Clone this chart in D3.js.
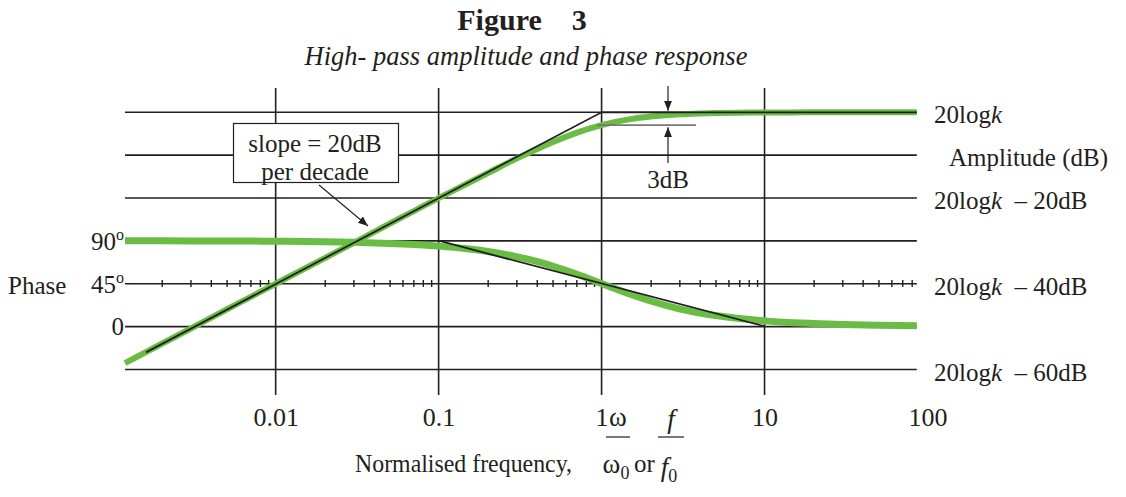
<!DOCTYPE html>
<html>
<head>
<meta charset="utf-8">
<script src="https://cdn.jsdelivr.net/npm/d3@7"></script>
<style>
  html, body { margin: 0; padding: 0; background: #fff; }
  svg { display: block; font-family: "Liberation Serif", "Times New Roman", serif; }
</style>
</head>
<body>
<svg id="chart" width="1126" height="497"></svg>
<script>
// ---------- data ----------
const freq = [0.00119, 0.002, 0.003, 0.005, 0.007, 0.01, 0.02, 0.03, 0.05, 0.07, 0.1, 0.15, 0.2, 0.3, 0.4, 0.5, 0.7, 1, 1.5, 2, 3, 4, 5, 7, 10, 15, 20, 30, 50, 86];
const amplitudeDb = [-58.5, -54.0, -50.5, -46.0, -43.1, -40.0, -34.0, -30.5, -26.0, -23.1, -20.0, -16.6, -14.2, -10.8, -8.6, -7.0, -4.8, -3.0, -1.6, -1.0, -0.46, -0.26, -0.17, -0.09, -0.04, -0.02, -0.01, 0, 0, 0];
const phaseDeg = [89.9, 89.9, 89.8, 89.7, 89.6, 89.4, 88.9, 88.3, 87.1, 86.0, 84.3, 81.5, 78.7, 73.3, 68.2, 63.4, 55.0, 45, 33.7, 26.6, 18.4, 14.0, 11.3, 8.1, 5.7, 3.8, 2.9, 1.9, 1.1, 0.7];
const ampAsymFreq = [0.0016, 1, 86];
const ampAsymDb = [-56, 0, 0];
const phaseAsymFreq = [0.1, 10];
const phaseAsymDeg = [90, 0];
const decades = [0.01, 0.1, 1, 10];
const tickValues = [0.01, 0.1, 1, 10, 100];
const tickLabels = ["0.01", "0.1", "1", "10", "100"];
const gridDb = [0, -10, -20, -30, -40, -50, -60];
const minorMultipliers = [2, 3, 4, 5, 6, 7, 8, 9];
const minorDecades = [0.001, 0.01, 0.1, 1, 10];
const phaseTicks = [90, 45, 0];
const rightLabels = [
  {db: 0, main: "20log", k: "k", rest: ""},
  {db: -20, main: "20log", k: "k", rest: "  \u2013 20dB"},
  {db: -40, main: "20log", k: "k", rest: "  \u2013 40dB"},
  {db: -60, main: "20log", k: "k", rest: "  \u2013 60dB"}
];

// ---------- scales ----------
const svg = d3.select("#chart");
const xMin = 0.00119, xMax = 86;
const x = d3.scaleLog().domain([0.001, 100]).range([112.7, 927.5]);
const yDb = d3.scaleLinear().domain([-60, 0]).range([369.5, 112.3]);
const yPh = d3.scaleLinear().domain([0, 90]).range([326.3, 240.7]);
const ink = "#231f20";
const green = "#69bd45";

// ---------- grid ----------
const grid = svg.append("g");
grid.selectAll("line.h").data(gridDb).enter().append("line")
  .attr("x1", x(xMin)).attr("x2", x(xMax))
  .attr("y1", d => yDb(d)).attr("y2", d => yDb(d))
  .attr("stroke", ink).attr("stroke-width", 1.6);
grid.selectAll("line.v").data(decades).enter().append("line")
  .attr("x1", d => x(d)).attr("x2", d => x(d))
  .attr("y1", 88).attr("y2", 395)
  .attr("stroke", ink).attr("stroke-width", 1.6);

// minor ticks on 45 deg line
const minor = [];
minorDecades.forEach(dec => minorMultipliers.forEach(m => {
  const v = dec * m; if (v > xMin && v < xMax) minor.push(v);
}));
svg.append("g")
  .attr("transform", `translate(0,${yPh(45) - 3.5})`)
  .call(d3.axisBottom(x).tickValues(minor).tickSize(7).tickFormat(""))
  .call(g => g.select(".domain").remove())
  .call(g => g.selectAll("line").attr("stroke", ink).attr("stroke-width", 1.4));

// x tick labels
svg.append("g")
  .attr("transform", "translate(0,395)")
  .call(d3.axisBottom(x).tickValues(tickValues).tickSize(0).tickPadding(13)
        .tickFormat((d, i) => tickLabels[i]))
  .call(g => g.select(".domain").remove())
  .call(g => g.selectAll("text").attr("font-family", "Liberation Serif")
        .attr("font-size", 26).attr("fill", ink));

// ---------- curves ----------
const line = d3.line().curve(d3.curveMonotoneX);
svg.append("path")
  .attr("d", line(freq.map((f, i) => [x(f), yPh(phaseDeg[i])])))
  .attr("fill", "none").attr("stroke", green).attr("stroke-width", 7);
svg.append("path")
  .attr("d", line(freq.map((f, i) => [x(f), yDb(amplitudeDb[i])])))
  .attr("fill", "none").attr("stroke", green).attr("stroke-width", 6);

// asymptotes
const straight = d3.line();
svg.append("path")
  .attr("d", straight(ampAsymFreq.map((f, i) => [x(f), yDb(ampAsymDb[i])])))
  .attr("fill", "none").attr("stroke", ink).attr("stroke-width", 1.8);
svg.append("path")
  .attr("d", straight(phaseAsymFreq.map((f, i) => [x(f), yPh(phaseAsymDeg[i])])))
  .attr("fill", "none").attr("stroke", ink).attr("stroke-width", 1.8);

// ---------- markers ----------
const defs = svg.append("defs");
defs.append("marker").attr("id", "arr").attr("viewBox", "0 0 10 10")
  .attr("refX", 10).attr("refY", 5).attr("markerWidth", 10).attr("markerHeight", 10)
  .attr("markerUnits", "userSpaceOnUse").attr("orient", "auto")
  .append("path").attr("d", "M0,1 L10,5 L0,9 Z").attr("fill", ink);

// 3dB annotation
const x3 = 668;
svg.append("line").attr("x1", 597).attr("x2", 696)
  .attr("y1", yDb(-3)).attr("y2", yDb(-3))
  .attr("stroke", "#777").attr("stroke-width", 1.6);
svg.append("line").attr("x1", x3).attr("x2", x3).attr("y1", 86).attr("y2", yDb(0) - 1.5)
  .attr("stroke", ink).attr("stroke-width", 1.2).attr("marker-end", "url(#arr)");
svg.append("line").attr("x1", x3).attr("x2", x3).attr("y1", 163).attr("y2", yDb(-3) + 2)
  .attr("stroke", ink).attr("stroke-width", 1.2).attr("marker-end", "url(#arr)");
svg.append("text").attr("x", x3).attr("y", 188).attr("text-anchor", "middle")
  .attr("font-size", 25).attr("fill", ink).text("3dB");

// slope box
svg.append("rect").attr("x", 233.5).attr("y", 123.5).attr("width", 165).attr("height", 59)
  .attr("fill", "#fff").attr("stroke", ink).attr("stroke-width", 1.2);
svg.append("text").attr("x", 315).attr("y", 152).attr("text-anchor", "middle")
  .attr("font-size", 25).attr("fill", ink).text("slope = 20dB");
svg.append("text").attr("x", 315).attr("y", 180).attr("text-anchor", "middle")
  .attr("font-size", 25).attr("fill", ink).text("per decade");
svg.append("line").attr("x1", 319).attr("y1", 185).attr("x2", 368).attr("y2", 226)
  .attr("stroke", ink).attr("stroke-width", 1.1).attr("marker-end", "url(#arr)");

// ---------- titles ----------
svg.append("text").attr("x", 522).attr("y", 30).attr("text-anchor", "middle")
  .attr("font-size", 30).attr("font-weight", "bold").attr("fill", ink)
  .attr("xml:space", "preserve").text("Figure    3");
svg.append("text").attr("x", 526).attr("y", 65).attr("text-anchor", "middle")
  .attr("font-size", 26.5).attr("font-style", "italic").attr("fill", ink)
  .text("High- pass amplitude and phase response");

// right labels
const rl = svg.append("g").attr("font-size", 25).attr("fill", ink);
rightLabels.forEach(d => {
  const t = rl.append("text").attr("x", 934).attr("y", yDb(d.db) + 11)
    .attr("xml:space", "preserve");
  t.append("tspan").text(d.main);
  t.append("tspan").attr("font-style", "italic").text(d.k);
  if (d.rest) t.append("tspan").text(d.rest);
});
rl.append("text").attr("x", 949).attr("y", yDb(-10) + 11).text("Amplitude (dB)");

// left phase labels
const ll = svg.append("g").attr("font-size", 25).attr("fill", ink);
phaseTicks.forEach(p => {
  const t = ll.append("text").attr("x", 124).attr("y", yPh(p) + 9).attr("text-anchor", "end");
  t.append("tspan").text(p === 0 ? "0" : String(p));
  if (p !== 0) t.append("tspan").attr("font-size", 16).attr("dy", -10).text("o");
});
ll.append("text").attr("x", 8).attr("y", yPh(45) + 10).text("Phase");

// x-axis title
const xt = svg.append("g").attr("font-size", 25).attr("fill", ink);
xt.append("text").attr("x", 355).attr("y", 472).attr("textLength", 217)
  .attr("lengthAdjust", "spacingAndGlyphs").text("Normalised frequency,");
xt.append("text").attr("x", 618).attr("y", 426).attr("text-anchor", "middle")
  .attr("font-size", 27).text("\u03c9");
xt.append("line").attr("x1", 606).attr("x2", 630).attr("y1", 437).attr("y2", 437)
  .attr("stroke", ink).attr("stroke-width", 1.2);
const w0 = xt.append("text").attr("x", 616).attr("y", 473).attr("text-anchor", "middle");
w0.append("tspan").attr("font-size", 27).text("\u03c9");
w0.append("tspan").attr("font-size", 18).attr("dy", 6).text("0");
xt.append("text").attr("x", 634).attr("y", 472).text("or");
xt.append("text").attr("x", 671).attr("y", 428).attr("text-anchor", "middle")
  .attr("font-style", "italic").attr("font-size", 27).text("f");
xt.append("line").attr("x1", 658).attr("x2", 684).attr("y1", 437).attr("y2", 437)
  .attr("stroke", ink).attr("stroke-width", 1.2);
const f0 = xt.append("text").attr("x", 669).attr("y", 476).attr("text-anchor", "middle");
f0.append("tspan").attr("font-style", "italic").attr("font-size", 27).text("f");
f0.append("tspan").attr("font-size", 18).attr("dy", 6).text("0");
</script>
</body>
</html>
